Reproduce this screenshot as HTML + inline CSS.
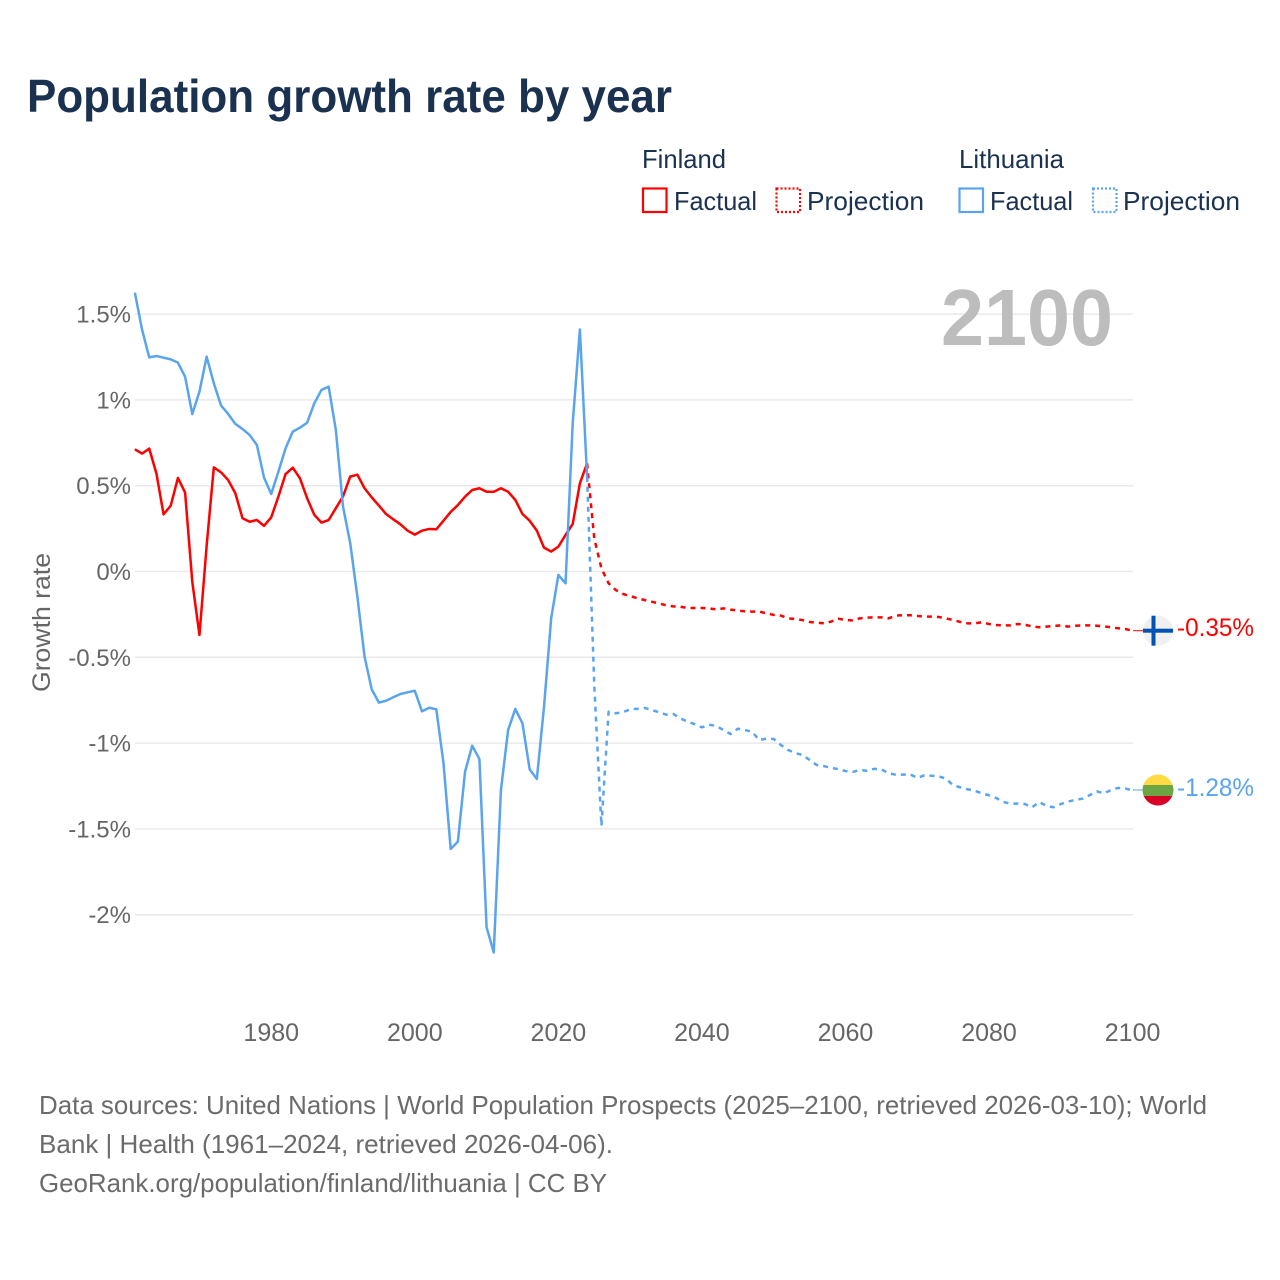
<!DOCTYPE html>
<html lang="en">
<head>
<meta charset="utf-8">
<title>Population growth rate by year</title>
<style>
html,body{margin:0;padding:0;background:#fff;}
svg{display:block;font-family:"Liberation Sans",sans-serif;}
</style>
</head>
<body>
<svg id="chart" xmlns="http://www.w3.org/2000/svg" width="1280" height="1280" viewBox="0 0 1280 1280">
  <rect width="1280" height="1280" fill="#ffffff"/>
  <text x="27" y="112" font-size="46" font-weight="700" fill="#1a3150" textLength="645" lengthAdjust="spacingAndGlyphs">Population growth rate by year</text>

  <g font-size="26" fill="#1a3150">
    <text x="642" y="168" textLength="84" lengthAdjust="spacingAndGlyphs">Finland</text>
    <text x="959" y="168" textLength="105" lengthAdjust="spacingAndGlyphs">Lithuania</text>
    <g>
      <rect x="643" y="188.500" width="23.500" height="23.500" fill="none" stroke="#ff0000" stroke-width="2.200"/>
      <text x="674" y="210" textLength="83" lengthAdjust="spacingAndGlyphs">Factual</text>
    </g>
    <g>
      <rect x="776.500" y="188.500" width="23.500" height="23.500" fill="none" stroke="#ff0000" stroke-width="2.200" stroke-dasharray="2 2"/>
      <text x="807" y="210" textLength="117" lengthAdjust="spacingAndGlyphs">Projection</text>
    </g>
    <g>
      <rect x="959.500" y="188.500" width="23.500" height="23.500" fill="none" stroke="#5aa4ee" stroke-width="2.200"/>
      <text x="990" y="210" textLength="83" lengthAdjust="spacingAndGlyphs">Factual</text>
    </g>
    <g>
      <rect x="1093" y="188.500" width="23.500" height="23.500" fill="none" stroke="#5aa4ee" stroke-width="2.200" stroke-dasharray="2 2"/>
      <text x="1123" y="210" textLength="117" lengthAdjust="spacingAndGlyphs">Projection</text>
    </g>
  </g>

  <g id="grid"></g>
  <text x="941" y="345" font-size="80" font-weight="700" fill="#bdbdbd" textLength="172" lengthAdjust="spacingAndGlyphs">2100</text>
  <g id="yticks" font-size="24" fill="#666666" text-anchor="end"></g>
  <g id="xticks" font-size="25" fill="#666666" text-anchor="middle"></g>
  <text transform="translate(50,692) rotate(-90)" font-size="25" fill="#666666" textLength="139" lengthAdjust="spacingAndGlyphs">Growth rate</text>
  <g id="series" fill="none" stroke-width="2.500" stroke-linejoin="round"></g>

  <g>
    <line x1="1133" y1="630.700" x2="1143" y2="630.700" stroke="#ff0000" stroke-width="1"/>
    <circle cx="1158" cy="630.700" r="15" fill="#f0f0f0"/>
    <rect x="1151.500" y="615.700" width="4" height="30" fill="#0052b4"/>
    <rect x="1143" y="628.700" width="30" height="4" fill="#0052b4"/>
    <text x="1177" y="636" font-size="25" fill="#ff0000" textLength="77" lengthAdjust="spacingAndGlyphs">-0.35%</text>
  </g>
  <g>
    <line x1="1133" y1="790" x2="1143" y2="790" stroke="#5aa4ee" stroke-width="1"/>
    <clipPath id="ltClip"><circle cx="1158" cy="790" r="15.500"/></clipPath>
    <g clip-path="url(#ltClip)">
      <rect x="1142" y="774" width="32" height="11" fill="#ffda44"/>
      <rect x="1142" y="785" width="32" height="11" fill="#6da544"/>
      <rect x="1142" y="796" width="32" height="11" fill="#d80027"/>
    </g>
    <text x="1177" y="796" font-size="25" fill="#5aa4ee" textLength="77" lengthAdjust="spacingAndGlyphs">-1.28%</text>
  </g>

  <g font-size="26" fill="#6b6b6b">
    <text x="39" y="1114" textLength="1168" lengthAdjust="spacingAndGlyphs">Data sources: United Nations | World Population Prospects (2025–2100, retrieved 2026-03-10); World</text>
    <text x="39" y="1153" textLength="574" lengthAdjust="spacingAndGlyphs">Bank | Health (1961–2024, retrieved 2026-04-06).</text>
    <text x="39" y="1192" textLength="568" lengthAdjust="spacingAndGlyphs">GeoRank.org/population/finland/lithuania | CC BY</text>
  </g>
</svg>
<script>
const factualStartYear = 1961;
const projectionStartYear = 2024;
const yTickValues = [1.5, 1, 0.5, 0, -0.5, -1, -1.5, -2];
const yTickLabels = ["1.5%", "1%", "0.5%", "0%", "-0.5%", "-1%", "-1.5%", "-2%"];
const xTickYears = [1980, 2000, 2020, 2040, 2060, 2080, 2100];

const finlandFactual = [
  0.712, 0.687, 0.716, 0.572, 0.333, 0.384, 0.545, 0.46, -0.06, -0.37,
  0.15, 0.607, 0.578, 0.533, 0.456, 0.31, 0.29, 0.3, 0.266, 0.316,
  0.437, 0.568, 0.605, 0.543, 0.427, 0.33, 0.285, 0.3, 0.369, 0.437,
  0.553, 0.564, 0.485, 0.432, 0.384, 0.335, 0.304, 0.275, 0.238, 0.215,
  0.238, 0.248, 0.246, 0.296, 0.347, 0.387, 0.436, 0.475, 0.485, 0.465,
  0.465, 0.485, 0.465, 0.417, 0.335, 0.296, 0.238, 0.139, 0.116, 0.145,
  0.213, 0.277, 0.514, 0.63
];
const finlandProjection = [
  0.63, 0.193, 0.018, -0.069, -0.108, -0.131, -0.143, -0.156, -0.166, -0.176,
  -0.186, -0.197, -0.203, -0.205, -0.213, -0.213, -0.213, -0.215, -0.221, -0.215,
  -0.222, -0.228, -0.232, -0.234, -0.234, -0.244, -0.253, -0.257, -0.273, -0.277,
  -0.283, -0.294, -0.298, -0.302, -0.292, -0.275, -0.283, -0.285, -0.273, -0.269,
  -0.267, -0.267, -0.273, -0.257, -0.255, -0.255, -0.259, -0.263, -0.263, -0.265,
  -0.273, -0.283, -0.294, -0.302, -0.302, -0.296, -0.306, -0.312, -0.314, -0.314,
  -0.306, -0.31, -0.32, -0.325, -0.321, -0.318, -0.314, -0.321, -0.316, -0.314,
  -0.314, -0.316, -0.32, -0.325, -0.331, -0.335, -0.345
];
const lithuaniaFactual = [
  1.625, 1.41, 1.248, 1.256, 1.246, 1.236, 1.217, 1.135, 0.918, 1.048,
  1.252, 1.097, 0.968, 0.918, 0.86, 0.83, 0.795, 0.737, 0.547, 0.452,
  0.582, 0.718, 0.815, 0.838, 0.867, 0.98, 1.058, 1.077, 0.825, 0.378,
  0.166, -0.147, -0.496, -0.687, -0.764, -0.753, -0.733, -0.714, -0.704, -0.695,
  -0.815, -0.794, -0.803, -1.118, -1.617, -1.574, -1.167, -1.015, -1.093, -2.073,
  -2.22, -1.273, -0.924, -0.801, -0.885, -1.153, -1.209, -0.79, -0.273, -0.02,
  -0.069, 0.865, 1.41, 0.552
];
const lithuaniaProjection = [
  0.552, -0.66, -1.483, -0.817, -0.826, -0.82, -0.803, -0.8, -0.795, -0.807,
  -0.82, -0.834, -0.83, -0.856, -0.875, -0.89, -0.908, -0.893, -0.9, -0.924,
  -0.947, -0.916, -0.924, -0.935, -0.982, -0.974, -0.976, -1.011, -1.04, -1.058,
  -1.069, -1.098, -1.128, -1.134, -1.145, -1.151, -1.163, -1.168, -1.157, -1.161,
  -1.15, -1.153, -1.176, -1.184, -1.184, -1.182, -1.203, -1.188, -1.19, -1.194,
  -1.207, -1.246, -1.258, -1.269, -1.277, -1.293, -1.304, -1.32, -1.343, -1.353,
  -1.353, -1.355, -1.374, -1.343, -1.366, -1.374, -1.355, -1.341, -1.331, -1.324,
  -1.304, -1.281, -1.293, -1.273, -1.261, -1.265, -1.275
];

const SVG_NS = "http://www.w3.org/2000/svg";
const xScale = function (year) { return 1132.6 - (2100 - year) * 7.178; };
const yScale = function (value) { return 571.5 - value * 171.6; };

const gridGroup = document.getElementById("grid");
const yTickGroup = document.getElementById("yticks");
yTickValues.forEach(function (value, i) {
  const line = document.createElementNS(SVG_NS, "line");
  line.setAttribute("x1", 135);
  line.setAttribute("x2", 1133);
  line.setAttribute("y1", yScale(value));
  line.setAttribute("y2", yScale(value));
  line.setAttribute("stroke", "#e9e9e9");
  line.setAttribute("stroke-width", 1.5);
  
  
  gridGroup.appendChild(line);

  const label = document.createElementNS(SVG_NS, "text");
  label.setAttribute("x", 131);
  label.setAttribute("y", yScale(value) + 8.5);
  label.textContent = yTickLabels[i];
  
  
  yTickGroup.appendChild(label);
});

const xTickGroup = document.getElementById("xticks");
xTickYears.forEach(function (year) {
  const label = document.createElementNS(SVG_NS, "text");
  label.setAttribute("x", xScale(year));
  label.setAttribute("y", 1041);
  label.textContent = String(year);
  
  
  xTickGroup.appendChild(label);
});

const seriesGroup = document.getElementById("series");
function drawSeries(values, startYear, color, dash, name) {
  const path = document.createElementNS(SVG_NS, "path");
  const d = values.map(function (value, i) {
    return (i === 0 ? "M" : "L") + xScale(startYear + i).toFixed(2) + " " + yScale(value).toFixed(2);
  }).join(" ");
  path.setAttribute("d", d);
  path.setAttribute("stroke", color);
  if (dash) { path.setAttribute("stroke-dasharray", dash); }
  
  
  seriesGroup.appendChild(path);
}
drawSeries(finlandFactual, factualStartYear, "#ff0000", null, "finland-factual-line");
drawSeries(finlandProjection, projectionStartYear, "#ff0000", "5 5", "finland-projection-line");
drawSeries(lithuaniaFactual, factualStartYear, "#5aa4ee", null, "lithuania-factual-line");
drawSeries(lithuaniaProjection, projectionStartYear, "#5aa4ee", "5 5", "lithuania-projection-line");
</script>
</body>
</html>
